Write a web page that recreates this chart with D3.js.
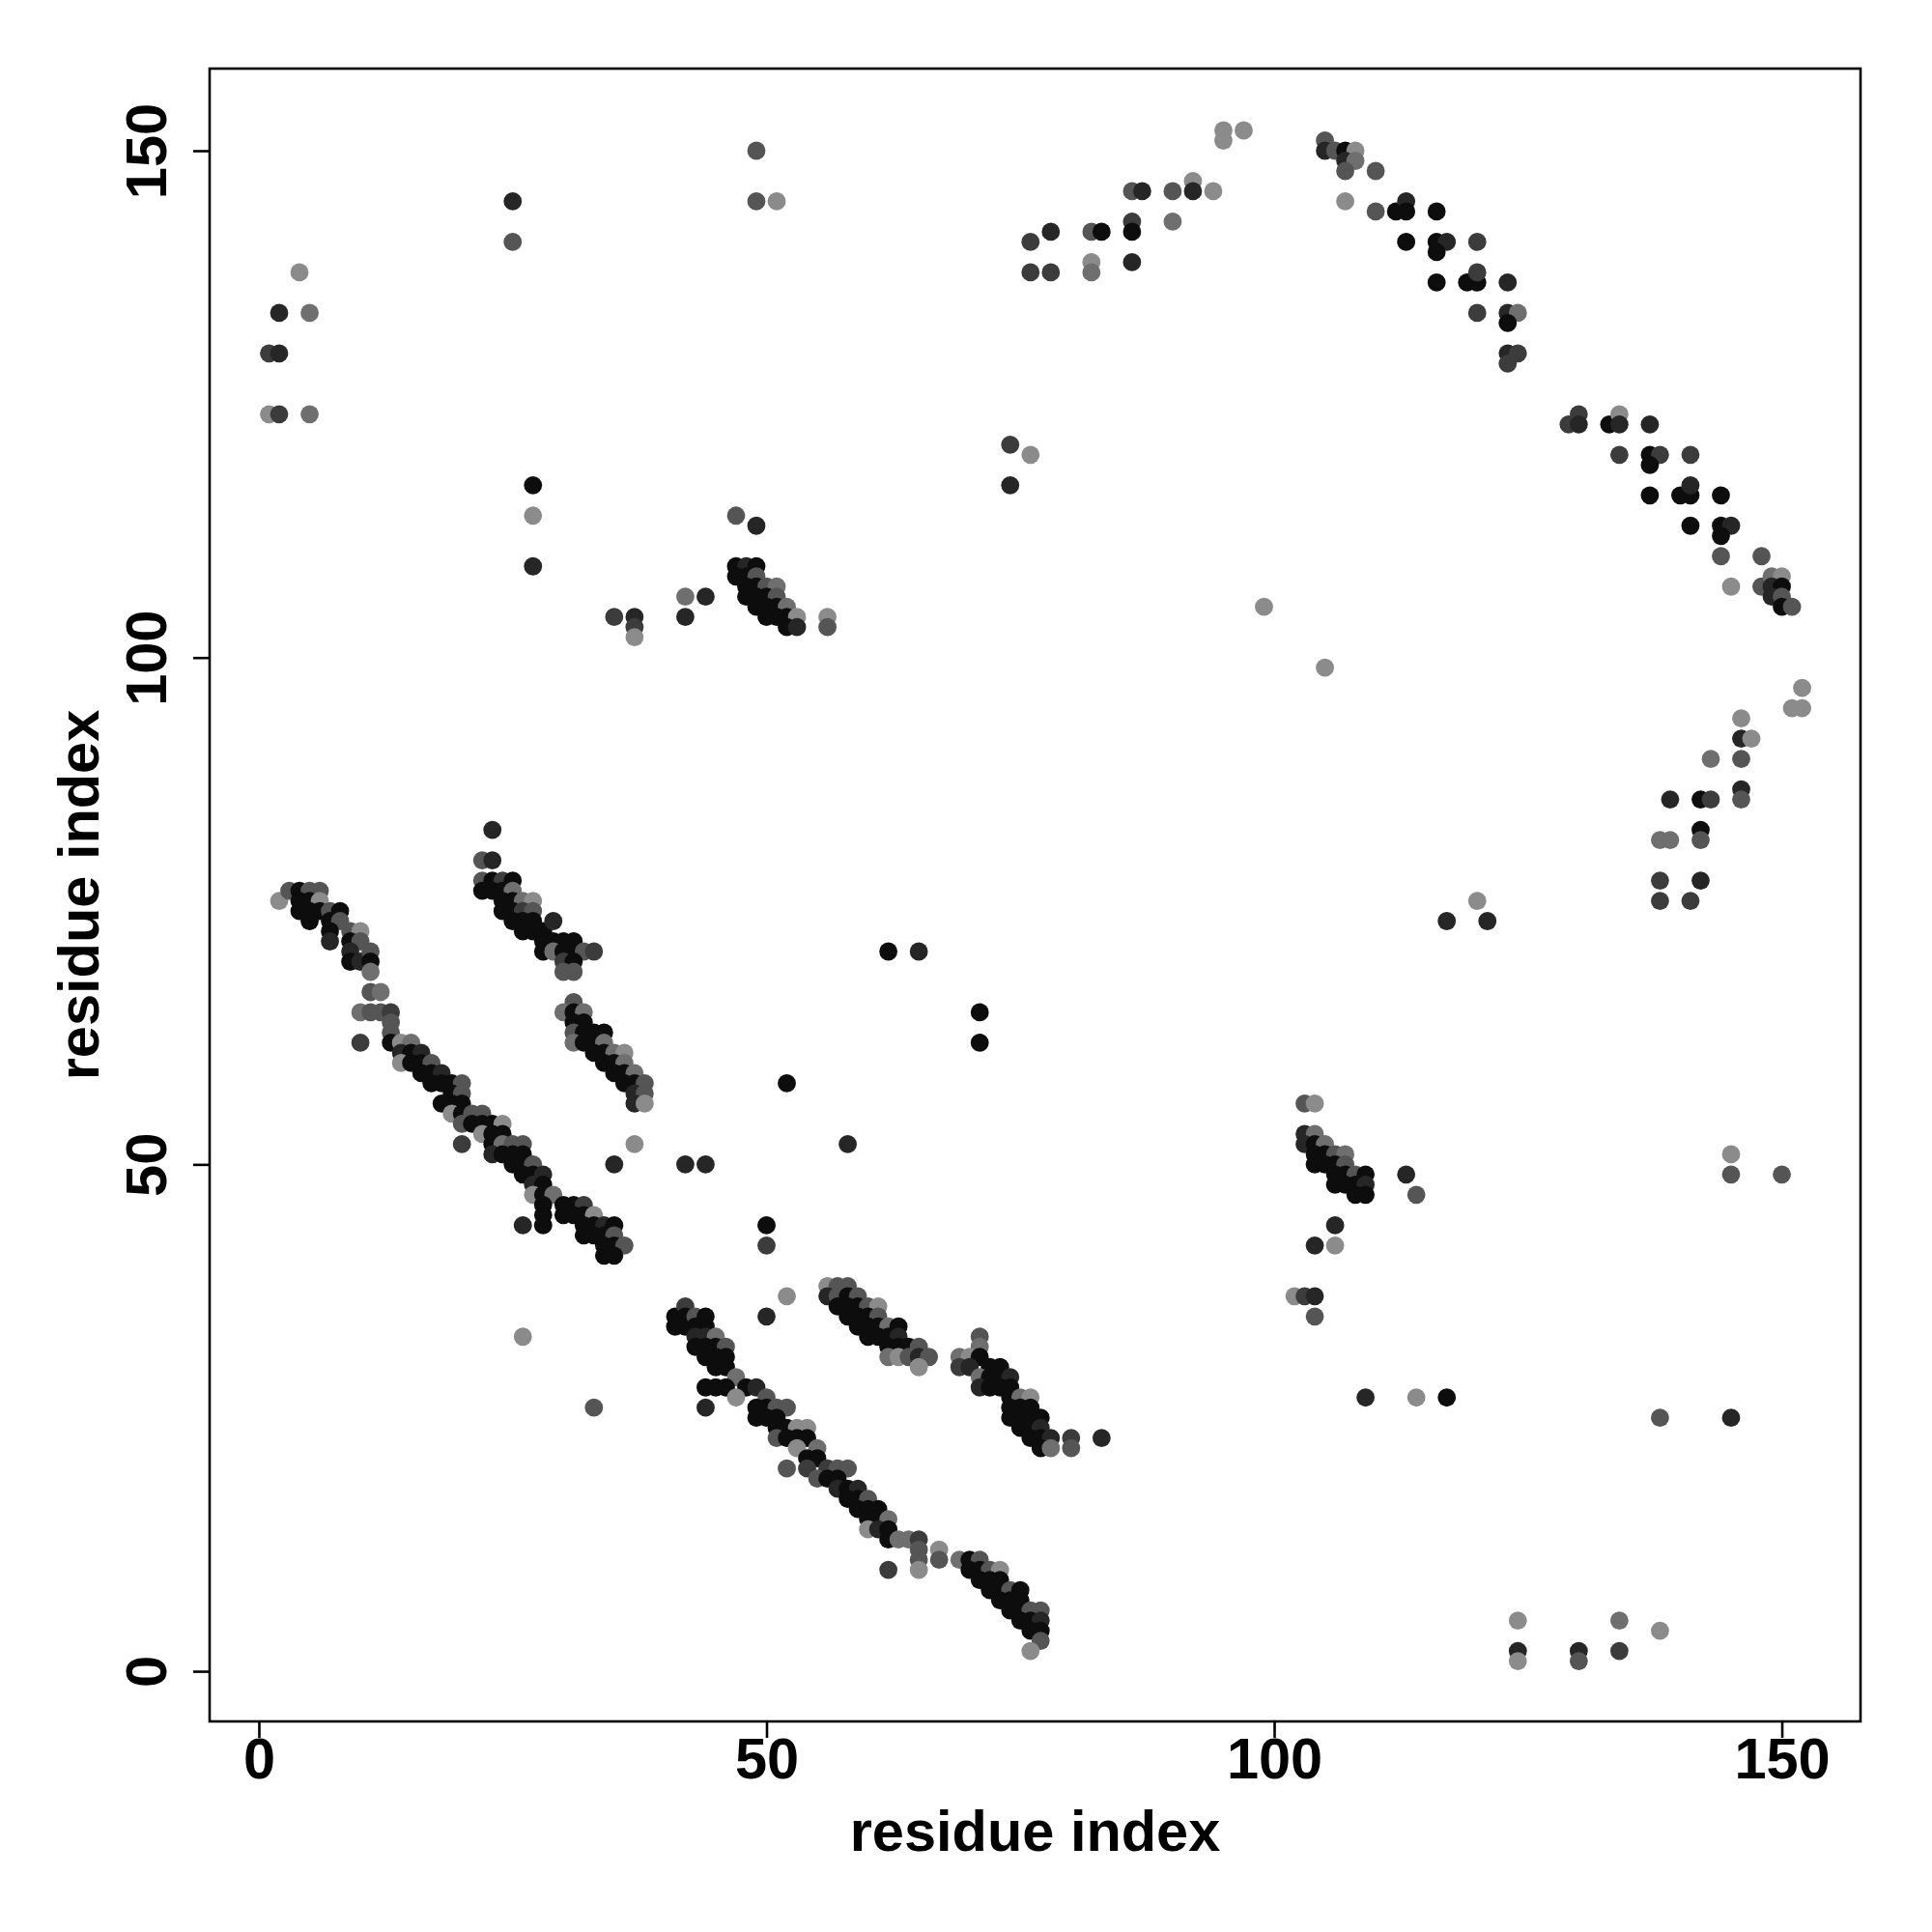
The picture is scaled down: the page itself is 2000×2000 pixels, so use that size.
<!DOCTYPE html>
<html>
<head>
<meta charset="utf-8">
<script src="https://cdn.jsdelivr.net/npm/d3@7"></script>
<style>
  html, body { margin: 0; padding: 0; background: #ffffff; }
  svg { display: block; }
  text { font-family: "Liberation Sans", Arial, Helvetica, sans-serif; font-weight: bold; }
</style>
</head>
<body>
<svg id="chart" width="2000" height="2000"></svg>
<script>
// ---------- data: contacts as [residue i, residue j, shade level 0 (darkest) .. 5 (lightest)] ----------
const xTicks = [0, 50, 100, 150];
const yTicks = [0, 50, 100, 150];
const xLabel = "residue index";
const yLabel = "residue index";

const topLeftCluster = [[1,130,2],[2,130,1],[2,134,1],[5,134,4],[4,138,5],[1,124,5],[2,124,2],[5,124,4]];
const topColumns = [[25,145,1],[25,141,3],[27,117,0],[27,114,5],[27,109,1],[49,150,3],[49,145,3],[51,145,5]];
const upperCluster = [
  [35,104,2],[37,104,1],[37,103,2],[37,102,5],[42,106,4],[44,106,1],[42,104,1],[47,114,3],[49,113,1],
  [47,109,0],[48,109,1],[49,109,0],[47,108,0],[48,108,0],[49,108,3],[48,107,0],[49,107,0],[50,107,3],[51,107,4],
  [48,106,0],[49,106,0],[50,106,0],[51,106,3],[49,105,0],[50,105,0],[51,105,0],[52,105,4],[50,104,0],[51,104,0],
  [52,104,0],[53,104,5],[52,103,0],[53,103,1],[56,104,5],[56,103,3]
];
const arcUpper = [
  [74,121,2],[76,120,5],[74,117,1],
  [76,141,2],[78,142,1],[76,138,2],[78,138,2],[82,142,3],[83,142,0],[82,139,5],[82,138,4],[86,143,2],[86,142,0],
  [86,139,1],[86,146,3],[87,146,1],[90,146,3],[90,143,4],[92,147,5],[92,146,1],[94,146,5],[95,152,5],[95,151,5],[97,152,5],
  [105,151,3],[105,150,1],[106,150,3],[107,150,0],[108,150,5],[107,149,1],[108,149,4],[107,148,3],[110,148,3],[107,145,5],
  [110,144,3],[112,144,0],[113,145,1],[113,144,0],[116,144,0],[113,141,0],[116,141,0],[117,141,1],[116,140,0],[120,141,2],
  [116,137,0],[119,137,0],[120,137,0],[120,138,2],[123,137,1],[120,134,2],[123,134,1],[124,134,4],[123,133,0],[123,130,1],
  [124,130,2],[123,129,2]
];
const arcRight = [
  [129,123,2],[130,124,2],[130,123,1],[133,123,0],[134,124,5],[134,123,1],[137,123,1],[134,120,2],[137,120,0],[138,120,2],
  [137,119,0],[141,120,2],[137,116,0],[140,116,0],[141,116,0],[141,117,1],[144,116,0],[141,113,0],[144,113,0],[145,113,1],
  [144,112,0],[144,110,3],[148,110,3],[145,107,5],[148,107,3],[149,108,4],[150,108,5],[149,107,1],[150,107,0],[149,106,1],
  [150,106,3],[150,105,0],[151,105,3],[99,105,5],[105,99,5]
];
const rightLower = [
  [152,97,5],[152,95,5],[151,95,5],[146,94,5],[146,92,1],[147,92,5],[143,90,4],[146,90,3],[146,87,1],[146,86,3],[139,86,1],
  [142,86,0],[143,86,2],[138,82,4],[139,82,4],[142,83,0],[142,82,3],[138,78,2],[142,78,1],[138,76,2],[141,76,2],
  [117,74,1],[120,76,5],[121,74,1]
];
const bottomRight = [
  [145,51,5],[145,49,3],[150,49,3],[117,27,0],[138,25,3],[145,25,1],[109,27,1],[114,27,5],
  [124,5,5],[124,2,1],[124,1,5],[130,2,1],[130,1,3],[134,5,4],[134,2,2],[138,4,5]
];
const clusterE = [
  [103,56,3],[104,56,5],[103,53,1],[104,53,4],[103,52,1],[104,52,0],[105,52,4],[104,51,0],[105,51,0],[106,51,3],[107,51,4],
  [104,50,0],[105,50,0],[106,50,0],[107,50,3],[106,49,0],[107,49,0],[108,49,3],[109,49,0],[106,48,0],[107,48,0],[108,48,0],
  [109,48,1],[108,47,0],[109,47,0],[113,49,1],[114,47,3],[106,44,1],[104,42,1],[106,42,5],[102,37,5],[103,37,2],[104,37,1],[104,35,3]
];
const midScatter = [
  [42,50,1],[44,50,1],[52,58,0],[58,52,1],[50,44,0],[50,42,2],[62,71,0],[65,71,1],[71,65,0],[71,62,0],[26,33,5],[33,26,3],
  [50,35,1],[52,37,5]
];
const bandA1 = [
  [2,76,5],[3,77,3],[4,77,0],[5,77,3],[6,77,3],[4,76,0],[5,76,0],[6,76,5],[4,75,0],[5,75,0],[6,75,0],[5,74,0],[7,75,3],
  [8,75,0],[7,74,0],[8,74,3],[7,73,0],[7,72,1],[9,73,3],[10,73,5],[9,72,0],[10,72,3],[9,71,1],[9,70,0],[10,70,1],[11,71,3],
  [11,70,0],[11,69,4]
];
const bandA2 = [
  [11,67,3],[12,67,4],[10,65,4],[11,65,3],[12,65,3],[13,65,2],[13,64,3],[13,63,3],[10,62,2],[13,62,0],[14,62,5],[15,62,4],
  [14,61,1],[15,61,0],[16,61,1],[14,60,5],[15,60,0],[16,60,0],[17,60,3],[16,59,0],[17,59,0],[18,59,1],[17,58,0],[18,58,0],
  [19,58,0],[20,58,3],[19,57,0],[20,57,3],[18,56,0],[19,56,0],[20,56,0],[19,55,5],[20,55,0],[21,55,3],[22,55,3],[20,54,3],
  [21,54,0],[22,54,0],[23,54,0],[24,54,5],[22,53,5],[23,53,0],[24,53,0],[20,52,2],[23,52,0],[24,52,4],[25,52,3],[26,52,3],
  [23,51,1],[24,51,0],[25,51,0],[26,51,0],[25,50,0],[26,50,0],[27,50,3],[26,49,0],[27,49,0],[28,49,1],[27,48,1],[28,48,0],
  [27,47,5],[28,47,0],[29,47,4],[28,46,0],[28,45,0],[28,44,0],[26,44,1],[30,46,0],[31,46,0],[32,46,2],[30,45,0],[31,45,0],
  [32,45,0],[33,45,5],[32,44,0],[33,44,0],[34,44,1],[35,44,0],[32,43,0],[33,43,0],[34,43,0],[35,43,3],[34,42,0],[35,42,0],
  [36,42,3],[35,41,0],[34,41,0]
];
const bandB1 = [
  [23,83,1],[22,80,3],[23,80,1],[22,78,3],[23,78,0],[24,78,2],[25,78,0],[22,77,0],[23,77,0],[24,77,0],[25,77,4],[24,76,0],
  [25,76,0],[26,76,4],[27,76,5],[24,75,0],[25,75,0],[26,75,2],[27,75,3],[25,74,0],[26,74,0],[27,74,0],[26,73,0],[27,73,0],
  [28,73,0],[29,74,1],[28,72,0],[29,72,0],[30,72,0],[31,72,0],[28,71,0],[29,71,4],[30,71,0],[31,71,0],[32,71,3],[33,71,2],
  [30,70,2],[31,70,0],[31,69,3],[30,69,3]
];
const bandB2 = [
  [31,66,3],[30,65,4],[31,65,0],[32,65,4],[31,64,0],[32,64,0],[31,63,3],[32,63,0],[33,63,0],[34,63,0],[31,62,4],[32,62,0],
  [33,62,0],[34,62,4],[33,61,0],[34,61,0],[35,61,4],[36,61,5],[34,60,0],[35,60,0],[36,60,4],[35,59,0],[36,59,0],[37,59,4],
  [36,58,0],[37,58,0],[38,58,3],[37,57,1],[38,57,3],[37,56,1],[38,56,5],[37,52,5],[35,50,1]
];
const bandC1 = [
  [41,35,0],[41,34,0],[42,36,2],[42,35,0],[42,34,0],[43,35,3],[44,35,0],[43,34,0],[44,34,0],[43,33,1],[44,33,1],[45,33,4],
  [43,32,0],[44,32,0],[45,32,0],[46,32,3],[44,31,0],[45,31,0],[46,31,0],[45,30,0],[46,30,0],[47,29,4],[44,28,0],[45,28,0],
  [46,28,0],[48,28,0],[49,28,1],[47,27,5],[50,27,3],[44,26,1],[49,26,0],[50,26,0],[51,26,3],[52,26,3],[49,25,0],[50,25,0],
  [51,25,0],[51,24,0],[52,24,0],[53,24,5],[54,24,5],[51,23,3],[52,23,0],[53,23,0],[54,23,0],[53,22,5],[55,22,4],[54,21,0],
  [55,21,0],[54,20,2],[56,20,2],[57,20,3],[58,20,3],[55,19,3],[56,19,0],[57,19,0],[57,18,1],[58,18,0],[59,18,1],[59,17,0],
  [60,17,3],[58,17,0],[59,16,0],[60,16,0],[61,16,0],[60,15,0],[61,15,0],[62,15,4],[60,14,5],[61,14,1],[62,14,0],[62,13,0],
  [63,13,4],[64,13,4],[65,13,2],[65,12,3],[65,11,3],[67,12,5],[67,11,3],[62,10,2],[65,10,5],[52,20,3]
];
const bandC1b = [
  [69,11,4],[70,11,0],[71,11,3],[70,10,0],[71,10,0],[72,10,3],[73,10,5],[71,9,0],[72,9,0],[73,9,0],[72,8,0],[73,8,0],[74,8,3],
  [75,8,0],[73,7,0],[74,7,0],[75,7,0],[74,6,0],[75,6,0],[76,6,3],[77,6,3],[75,5,0],[76,5,0],[77,5,1],[76,4,0],[77,4,0],
  [77,3,3],[76,2,5]
];
const bandC2 = [
  [56,38,5],[57,38,3],[58,38,3],[56,37,1],[57,37,3],[58,37,0],[59,37,3],[57,36,0],[58,36,0],[59,36,0],[60,36,3],[61,36,5],
  [58,35,0],[59,35,0],[60,35,0],[61,35,3],[59,34,0],[60,34,0],[61,34,0],[62,34,4],[63,34,0],[60,33,0],[61,33,0],[62,33,0],
  [63,33,1],[62,32,0],[63,32,0],[64,32,0],[65,32,3],[62,31,4],[63,31,5],[64,31,3],[65,31,1],[66,31,3],[65,30,5]
];
const bandC3 = [
  [71,33,3],[71,32,4],[69,31,4],[70,31,5],[71,31,0],[69,30,2],[70,30,1],[72,30,0],[73,30,0],[71,29,4],[72,29,0],[73,29,0],
  [74,29,1],[71,28,1],[72,28,0],[73,28,0],[74,28,0],[74,27,0],[75,27,4],[76,27,5],[74,26,0],[75,26,0],[76,26,0],[74,25,0],
  [75,25,0],[76,25,0],[77,25,0],[75,24,0],[76,24,0],[77,24,1],[76,23,0],[77,23,0],[78,23,1],[77,22,0],[78,22,4],[80,23,2],
  [80,22,3],[83,23,1]
];

const shadeLevels = [0, 1, 2, 3, 4, 5];

// ---------- drawing ----------
const svg = d3.select("#chart");
const plot = { left: 217, right: 1926, top: 71, bottom: 1782 };

const x = d3.scaleLinear().domain([-4.85, 157.75]).range([plot.left, plot.right]);
const y = d3.scaleLinear().domain([-4.95, 158.1]).range([plot.bottom, plot.top]);
const shade = d3.scaleOrdinal().domain(shadeLevels)
  .range(["#0d0d0d", "#262626", "#3c3c3c", "#555555", "#6f6f6f", "#8b8b8b"]);

const allPoints = [].concat(
  topLeftCluster, topColumns, upperCluster, arcUpper, arcRight, rightLower, bottomRight,
  clusterE, midScatter, bandA1, bandA2, bandB1, bandB2, bandC1, bandC1b, bandC2, bandC3
);

svg.append("rect").attr("width", 2000).attr("height", 2000).attr("fill", "#ffffff");

svg.append("g")
  .selectAll("circle")
  .data(allPoints)
  .join("circle")
  .attr("cx", d => x(d[0]))
  .attr("cy", d => y(d[1]))
  .attr("r", 9.4)
  .attr("fill", d => shade(d[2]));

// frame
svg.append("rect")
  .attr("x", plot.left).attr("y", plot.top)
  .attr("width", plot.right - plot.left).attr("height", plot.bottom - plot.top)
  .attr("fill", "none").attr("stroke", "#000").attr("stroke-width", 2.6);

// axes
const fs = 59.5;
const xAxis = d3.axisBottom(x).tickValues(xTicks).tickSize(17).tickSizeOuter(0).tickPadding(8);
const gx = svg.append("g").attr("transform", `translate(0,${plot.bottom})`).call(xAxis);
gx.select(".domain").remove();
gx.selectAll(".tick line").attr("stroke", "#000").attr("stroke-width", 2.6);
gx.selectAll(".tick text").attr("font-size", fs).attr("fill", "#000")
  .attr("font-family", "Liberation Sans, Arial, sans-serif").attr("font-weight", "bold")
  .attr("dy", null).attr("y", 59);

const yAxis = d3.axisLeft(y).tickValues(yTicks).tickSize(17).tickSizeOuter(0);
const gy = svg.append("g").attr("transform", `translate(${plot.left},0)`).call(yAxis);
gy.select(".domain").remove();
gy.selectAll(".tick line").attr("stroke", "#000").attr("stroke-width", 2.6);
gy.selectAll(".tick text")
  .attr("font-size", fs).attr("fill", "#000")
  .attr("font-family", "Liberation Sans, Arial, sans-serif").attr("font-weight", "bold")
  .attr("x", null).attr("dy", null)
  .attr("text-anchor", "middle")
  .attr("transform", "translate(-45,0) rotate(-90)");

// axis titles
svg.append("text")
  .attr("x", (plot.left + plot.right) / 2).attr("y", 1916)
  .attr("text-anchor", "middle").attr("font-size", fs).attr("fill", "#000")
  .text(xLabel);

svg.append("text")
  .attr("transform", `translate(102,${(plot.top + plot.bottom) / 2}) rotate(-90)`)
  .attr("text-anchor", "middle").attr("font-size", fs).attr("fill", "#000")
  .text(yLabel);
</script>
</body>
</html>
